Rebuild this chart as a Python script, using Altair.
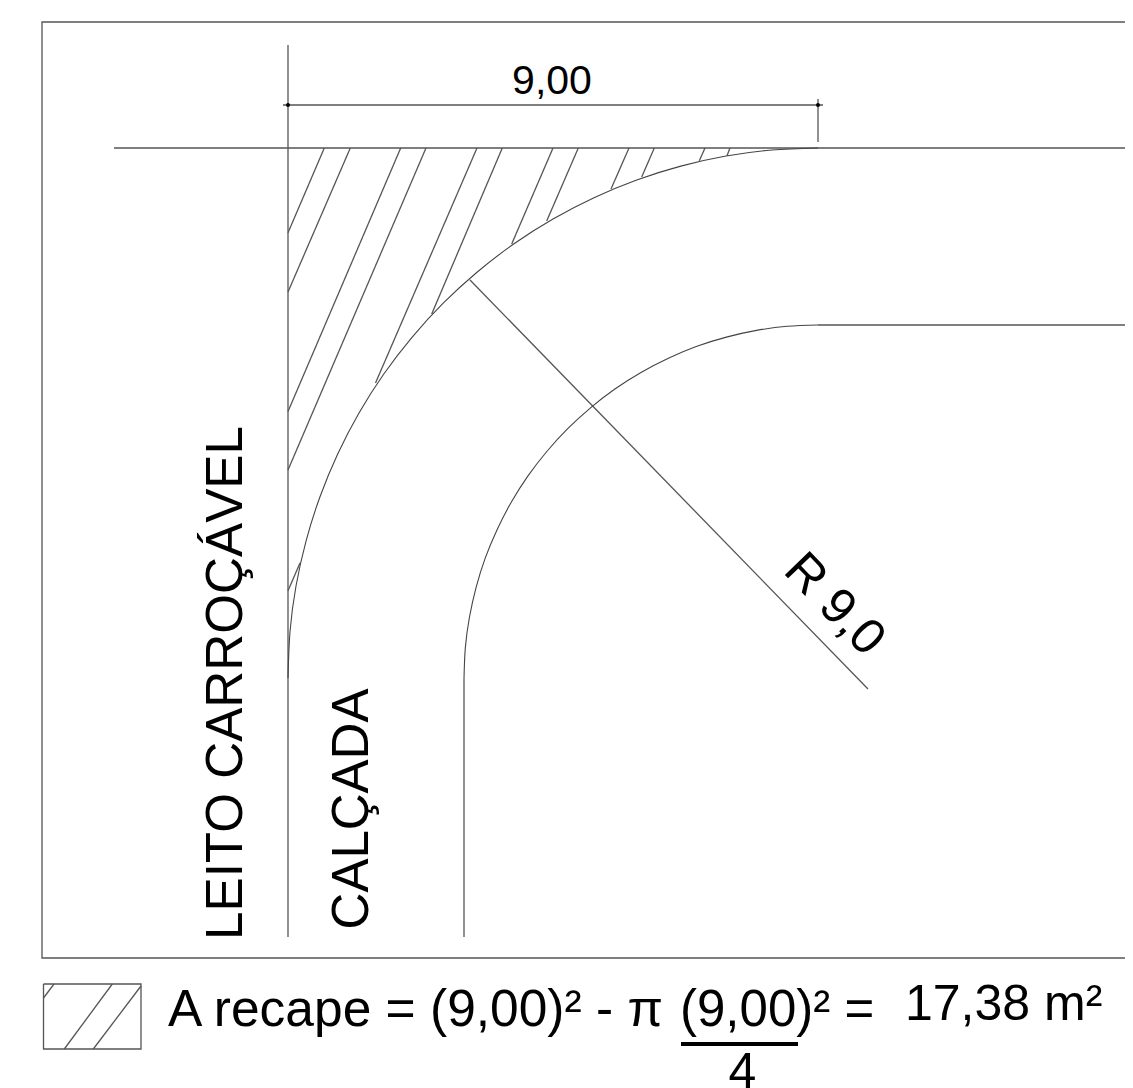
import altair as alt
import pandas as pd

# Drawing coordinates (picture pixels)
straight_paths = {
    "frame": [(1125, 22), (42, 22), (42, 958), (1125, 958)],
    "vertical": [(288, 45), (288, 937)],
    "street": [(114, 148), (1125, 148)],
    "dim": [(283, 105), (823, 105)],
    "dim_ext": [(818, 99), (818, 142)],
    "inner_top": [(818, 325), (1125, 325)],
    "inner_left": [(464, 679), (464, 937)],
    "radius": [(470, 280), (868, 689)],
    "h1": [(324.3, 148), (288, 232.7)],
    "h2": [(350.3, 148), (288, 292)],
    "h3": [(400.7, 148), (288, 411.5)],
    "h4": [(426, 148), (288, 470)],
    "h5": [(477, 148), (375.5, 383)],
    "h6": [(502.3, 148), (431.7, 314)],
    "h7": [(553, 148), (511.7, 244)],
    "h8": [(578.3, 148), (546.7, 221)],
    "h9": [(629, 148), (611, 189)],
    "h10": [(654.3, 148), (641.7, 177)],
    "h11": [(705, 148), (699.3, 160.7)],
    "h12": [(730, 148), (727, 155.7)],
    "h13": [(300, 563), (288, 590.7)],
    "box": [(43.5, 984), (141, 984), (141, 1049), (43.5, 1049), (43.5, 984)],
    "bh1": [(43.5, 998), (54, 984)],
    "bh2": [(64.3, 1049), (112.3, 984)],
    "bh3": [(93.3, 1049), (141, 986)],
}
outer_arc = [(288, 678), (290, 631.8), (296, 586), (306.1, 540.8), (320, 496.7), (337.7, 454), (359, 413),
             (383.8, 374), (412, 337.3), (443.2, 303.2), (477.3, 272), (514, 243.8), (553, 219),
             (594, 197.7), (636.7, 180), (680.8, 166.1), (726, 156), (771.8, 150), (818, 148)]
inner_arc = [(464, 679), (465.3, 648.1), (469.4, 617.5), (476.1, 587.4), (485.3, 557.9), (497.2, 529.4),
             (511.4, 502), (528, 475.9), (546.8, 451.5), (567.7, 428.7), (590.5, 407.8), (614.9, 389),
             (641, 372.4), (668.4, 358.2), (696.9, 346.3), (726.4, 337.1), (756.5, 330.4), (787.1, 326.3),
             (818, 325)]
dots = [(288, 105), (818, 105)]
fraction_bar = [(681, 1044), (798, 1044)]

labels = ["9,00", "LEITO CARROÇÁVEL", "CALÇADA", "R 9,0", "A recape = (9,00)² - π", "(9,00)² =", "17,38 m²", "4"]
label_x = [552, 242, 368, 782, 168, 680, 905, 742.5]
label_y = [94, 683, 809, 572, 1026, 1026, 1020, 1088]
label_size = [41, 51.2, 51, 50, 51.5, 51, 50, 50]
label_angle = [0, 270, 270, 46, 0, 0, 0, 0]
label_align = ["center", "center", "center", "left", "left", "left", "left", "center"]

LINE = "#555555"
ARC = "#444444"
X = alt.X("x:Q", scale=alt.Scale(domain=[8, 1125], nice=False, zero=False), axis=None)
Y = alt.Y("y:Q", scale=alt.Scale(domain=[1088, 8], nice=False, zero=False), axis=None)


def table(paths):
    return pd.DataFrame(
        [{"id": k, "i": i, "x": p[0], "y": p[1]} for k, pts in paths.items() for i, p in enumerate(pts)]
    )


straight = alt.Chart(table(straight_paths)).mark_line(color=LINE, strokeWidth=1.3).encode(
    x=X, y=Y, detail="id:N", order="i:Q"
)
arcs = alt.Chart(table({"outer": outer_arc, "inner": inner_arc})).mark_line(
    color=ARC, strokeWidth=1.1, interpolate="natural"
).encode(x=X, y=Y, detail="id:N", order="i:Q")
bar = alt.Chart(table({"bar": fraction_bar})).mark_line(color="black", strokeWidth=4).encode(
    x=X, y=Y, detail="id:N", order="i:Q"
)
dot = alt.Chart(pd.DataFrame(dots, columns=["x", "y"])).mark_point(
    filled=True, color="black", size=16, opacity=1
).encode(x=X, y=Y)

text_layers = []
for t, x, y, s, a, al in zip(labels, label_x, label_y, label_size, label_angle, label_align):
    text_layers.append(
        alt.Chart(pd.DataFrame({"x": [x], "y": [y], "t": [t]})).mark_text(
            font="Liberation Sans", fontSize=s, angle=a, align=al, baseline="alphabetic", color="black"
        ).encode(x=X, y=Y, text="t:N")
    )

chart = alt.layer(straight, arcs, bar, dot, *text_layers).properties(
    width=1117, height=1080, padding=0, autosize=alt.AutoSizeParams(type="none"), background="white"
).configure_view(stroke=None)

chart.save("out.html", embed_options={"renderer": "svg", "actions": False})
